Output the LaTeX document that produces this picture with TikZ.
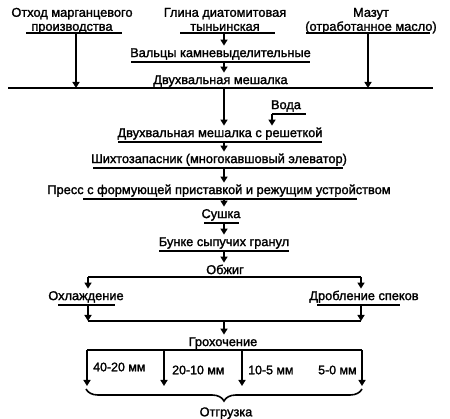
\documentclass[tikz,border=0pt]{standalone}
\usepackage{fontspec}
\setmainfont{Liberation Sans}[FakeBold=1.6]
\usetikzlibrary{arrows.meta,decorations.pathreplacing}

\newcommand{\stagebar}[3]{\draw[bar] ([xshift=#2]#1.south) -- ([xshift=#3]#1.south);}

\begin{document}
\begin{tikzpicture}[x=1pt, y=-1pt,
        stage/.style={font=\fontsize{12.8}{14}\selectfont, inner xsep=0pt, inner ysep=2pt, text height=9.3pt, text depth=2.7pt, anchor=south},
        head/.style={font=\fontsize{12.8}{14}\selectfont, inner xsep=0pt, inner ysep=2pt, text depth=0pt, align=center, anchor=south},
        frac/.style={font=\fontsize{12.4}{14}\selectfont, inner sep=0pt, anchor=west},
        bar/.style={line width=1.5pt},
        bus/.style={line width=1.7pt},
        arrow/.style={-{Triangle[length=6pt,width=7pt]}, line width=1.6pt},
        shipbrace/.style={decorate, decoration={brace, mirror, amplitude=12pt}, line width=1.6pt}
    ]
        \useasboundingbox (0,0) rectangle (450,419);
        \coordinate (col) at (224,0);

        \node[head] (otkhod) at (72,33) {Отход марганцевого\\производства};
        \node[head] (glina) at (225,33) {Глина диатомитовая\\тыньинская};
        \node[head] (mazut) at (371,33) {Мазут\\(отработанное масло)};
        \stagebar{otkhod}{-46pt}{50pt}
        \stagebar{glina}{-45pt}{50pt}
        \stagebar{mazut}{-65pt}{59pt}

        \node[stage] (valcy) at (220.5,62) {Вальцы камневыделительные};
        \stagebar{valcy}{-89.5pt}{89.5pt}
        \node[stage] (mesh1) at (220.5,89) {Двухвальная мешалка};
        \coordinate (busL) at (8,88); \coordinate (busR) at (433,88);
        \coordinate (inL) at (76,88); \coordinate (inR) at (368,88);
        \draw[bus] (busL) -- (busR);
        \draw[arrow] (inL |- otkhod.south) -- (inL);
        \draw[arrow] (inR |- mazut.south) -- (inR);
        \draw[arrow] (col |- glina.south) -- (col |- valcy.north);
        \draw[arrow] (col |- valcy.south) -- (col |- mesh1.north);

        \node[stage] (voda) at (286,114) {Вода};
        \stagebar{voda}{-14pt}{20pt}
        \coordinate (vd) at (272,114);
        \node[stage] (mesh2) at (220,142) {Двухвальная мешалка с решеткой};
        \stagebar{mesh2}{-102pt}{102pt}
        \draw[arrow] (col |- busL) -- (col |- mesh2.north);
        \draw[arrow] (vd) -- (vd |- mesh2.north);

        \node[stage] (shikh) at (219,168) {Шихтозапасник (многокавшовый элеватор)};
        \stagebar{shikh}{-126pt}{124pt}
        \node[stage] (press) at (219,199) {Пресс с формующей приставкой и режущим устройством};
        \stagebar{press}{-136pt}{138pt}
        \node[stage] (sushka) at (221,223) {Сушка};
        \stagebar{sushka}{-17pt}{18pt}
        \node[stage] (bunk) at (224,251) {Бунке сыпучих гранул};
        \stagebar{bunk}{-65pt}{65pt}
        \node[stage] (obzhig) at (225,279) {Обжиг};
        \draw[arrow] (col |- mesh2.south) -- (col |- shikh.north);
        \draw[arrow] (col |- shikh.south) -- (col |- press.north);
        \draw[arrow] (col |- press.south) -- (col |- sushka.north);
        \draw[arrow] (col |- sushka.south) -- (col |- bunk.north);
        \draw[arrow] (col |- bunk.south) -- (col |- obzhig.north);

        \coordinate (sl) at (88,277); \coordinate (sr) at (361,277);
        \draw[bus] (sl) -- (sr);
        \node[stage] (okhl) at (86,305) {Охлаждение};
        \stagebar{okhl}{-28pt}{29pt}
        \node[stage] (drob) at (364,305) {Дробление спеков};
        \stagebar{drob}{-47pt}{36pt}
        \draw[arrow] (sl) -- (sl |- okhl.north);
        \draw[arrow] (sr) -- (sr |- drob.north);
        \coordinate (jl) at (88,321); \coordinate (jr) at (361,321);
        \draw[bus] (jl) -- (jr);
        \draw[arrow] (jl |- okhl.south) -- (jl);
        \draw[arrow] (jr |- drob.south) -- (jr);

        \node[stage] (grokh) at (223,351) {Грохочение};
        \draw[arrow] (col |- jl) -- (col |- grokh.north);
        \coordinate (gl) at (87,350); \coordinate (gr) at (362,350);
        \draw[bus] (gl) -- (gr);
        \foreach \x/\n in {87/1,164/2,242/3,362/4} {
            \coordinate (g\n) at (\x,350); \coordinate (e\n) at (\x,386);
            \draw[arrow] (g\n) -- (e\n);
        }
        \node[frac] (f1) at (93,367) {40-20 мм};
        \node[frac] (f2) at (172,370) {20-10 мм};
        \node[frac] (f3) at (248,370) {10-5 мм};
        \node[frac] (f4) at (318,370) {5-0 мм};

        \coordinate (brL) at (86,389); \coordinate (brR) at (362,389);
        \draw[shipbrace] (brL) -- (brR);
        \node[stage, anchor=center] (otgr) at (226,413) {Отгрузка};
    \end{tikzpicture}
\end{document}
